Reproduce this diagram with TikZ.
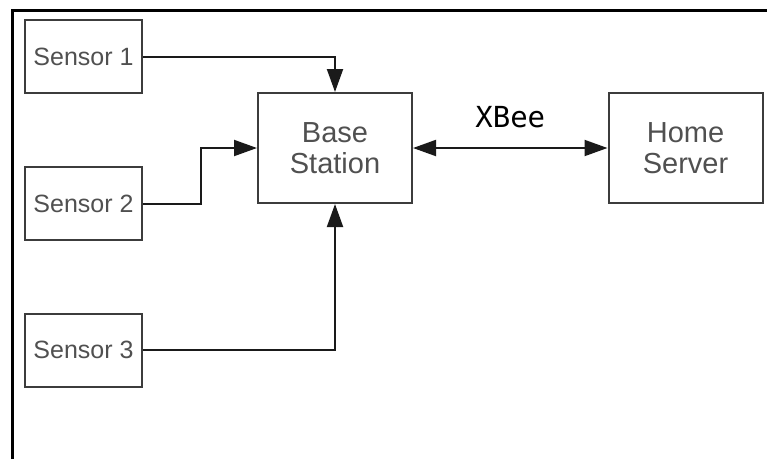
\documentclass[tikz,border=0pt]{standalone}
\usepackage{fontspec}
\setmainfont{Liberation Sans}
\newfontfamily\xbeefont{DejaVu Sans Mono}
\usetikzlibrary{arrows.meta,positioning}
\definecolor{cBox}{HTML}{3C3C3C}
\definecolor{cTxt}{HTML}{505050}
\definecolor{cLine}{HTML}{1A1A1A}
\tikzset{
  box/.style={draw=cBox, line width=2pt, align=center, text=cTxt, inner sep=0pt},
  sensor/.style={box, minimum width=117pt, minimum height=73pt,
    font=\fontsize{25}{29}\selectfont},
  block/.style={box, minimum width=154pt, minimum height=110pt,
    font=\fontsize{29}{31}\selectfont},
  flow/.style={-{Triangle[length=23pt, width=16pt]}, draw=cLine, line width=2pt},
  both/.style={flow, {Triangle[length=23pt, width=16pt]}-{Triangle[length=23pt, width=16pt]}},
}
\begin{document}
\begin{tikzpicture}[x=1pt, y=-1pt]
    \useasboundingbox (0,0) rectangle (767,459);
    % frame
    \draw[line width=3.5pt] (12.5,459) -- (12.5,10.5) -- (767,10.5);
    % boxes
    \node[sensor] (s1) at (83.5,56.5) {Sensor 1};
    \node[sensor] (s2) at (83.5,203.5) {Sensor 2};
    \node[sensor] (s3) at (83.5,350) {Sensor 3};
    \node[block] (base) at (335,148) {Base\\Station};
    \node[block] (home) at (685.5,148) {Home\\Server};
    % links
    \draw[flow] (s1.east) -| (base.north);
    \draw[flow] (s2.east) -- ++(58,0) |- (base.west);
    \draw[flow] (s3.east) -| (base.south);
    \draw[both] (base.east) -- (home.west)
      node[midway, anchor=base, yshift=21pt, font=\xbeefont\fontsize{29}{32}\selectfont, text=black]{XBee};
\end{tikzpicture}
\end{document}
